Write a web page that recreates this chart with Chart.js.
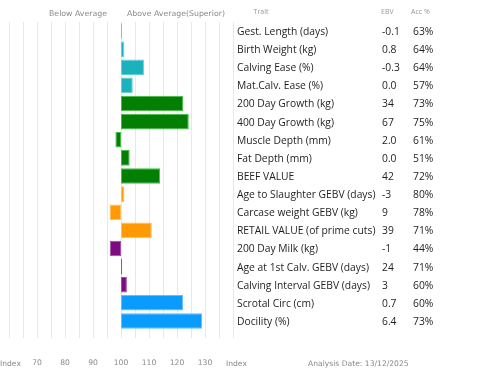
<!DOCTYPE html>
<html>
<head>
<meta charset="utf-8">
<script src="https://cdn.jsdelivr.net/npm/chart.js@4"></script>
<style>
html,body{margin:0;padding:0;background:#fff;}
#wrap{position:relative;width:480px;height:378px;}
</style>
</head>
<body>
<div id="wrap"><canvas id="c" width="480" height="378"></canvas></div>
<script>
const traits = ["Gest. Length (days)","Birth Weight (kg)","Calving Ease (%)","Mat.Calv. Ease (%)","200 Day Growth (kg)","400 Day Growth (kg)","Muscle Depth (mm)","Fat Depth (mm)","BEEF VALUE","Age to Slaughter GEBV (days)","Carcase weight GEBV (kg)","RETAIL VALUE (of prime cuts)","200 Day Milk (kg)","Age at 1st Calv. GEBV (days)","Calving Interval GEBV (days)","Scrotal Circ (cm)","Docility (%)"];
const ebv = ["-0.1","0.8","-0.3","0.0","34","67","2.0","0.0","42","-3","9","39","-1","24","3","0.7","6.4"];
const acc = ["63%","64%","64%","57%","73%","75%","61%","51%","72%","80%","78%","71%","44%","71%","60%","60%","73%"];
const indexValues = [100.4,101.2,108.2,104.2,122.2,124.2,98.0,103.1,114.0,101.2,95.9,111.0,96.0,100.4,102.1,122.2,129.0];
const groups = ["teal","teal","teal","teal","green","green","green","green","green","orange","orange","orange","purple","purple","purple","blue","blue"];
const tickLabels = [70,80,90,100,110,120,130];
const average = 100;

const fillColors = {teal:"#1cb2bd",green:"#037f03",orange:"#ff9a06",purple:"#7e0b80",blue:"#0a9bff"};
const borderColors = {teal:"#5fd0d8",green:"#3fbf3f",orange:"#ffc060",purple:"#a050a0",blue:"#5cc0ff"};

const tablePlugin = {
  id:"table",
  afterDraw(chart){
    const ctx = chart.ctx;
    const y = chart.scales.y;
    ctx.save();
    ctx.fillStyle = "#8a8a8a";
    ctx.font = "7.8px 'DejaVu Sans'";
    ctx.textBaseline = "middle";
    ctx.textAlign = "center";
    ctx.fillText("Below Average", 78, 14);
    ctx.fillText("Above Average(Superior)", 176, 14);
    ctx.font = "7px 'Open Sans'";
    ctx.fillStyle = "#999";
    ctx.fillText("Trait", 261, 12);
    ctx.textAlign = "left";
    ctx.fillText("EBV", 381, 12);
    ctx.fillText("Acc %", 411, 12);
    ctx.fillStyle = "#1e1e1e";
    ctx.font = "10.3px 'Open Sans'";
    traits.forEach((t,i)=>{
      const py = y.getPixelForValue(i) + 1;
      ctx.textAlign = "left";
      ctx.fillText(t, 237, py);
      ctx.fillText(ebv[i], 382, py);
      ctx.fillText(acc[i], 413, py);
    });
    ctx.fillStyle = "#8a8a8a";
    ctx.font = "7.6px 'DejaVu Sans'";
    ctx.textAlign = "left";
    ctx.fillText("Index", 0, 364);
    ctx.fillText("Index", 226, 364);
    ctx.fillText("Analysis Date: 13/12/2025", 308, 364);
    ctx.restore();
  }
};

new Chart(document.getElementById("c"), {
  type:"bar",
  data:{
    labels: traits,
    datasets:[{
      data: indexValues.map(v=>[average, v]),
      backgroundColor: groups.map(g=>fillColors[g]),
      borderColor: groups.map(g=>borderColors[g]),
      borderWidth: 1,
      borderSkipped: false,
      barPercentage: 0.86,
      categoryPercentage: 1
    }]
  },
  options:{
    indexAxis:"y",
    responsive:false,
    animation:false,
    layout:{padding:{left:9,right:247,top:22,bottom:0}},
    plugins:{legend:{display:false},tooltip:{enabled:false}},
    scales:{
      x:{
        min:60,max:140,
        border:{display:false},
        grid:{color:"#e8e8e8",lineWidth:1,tickLength:8,drawTicks:true},
        afterFit(scale){ scale.height = 48; scale.paddingLeft = 0; scale.paddingRight = 0; },
        ticks:{
          stepSize:5,
          autoSkip:false,
          maxRotation:0,
          padding:20,
          color:"#8a8a8a",
          font:{family:"DejaVu Sans",size:7.6},
          callback:(v)=> tickLabels.includes(v) ? String(v) : ""
        }
      },
      y:{display:false}
    }
  },
  plugins:[tablePlugin]
});
</script>
</body>
</html>
